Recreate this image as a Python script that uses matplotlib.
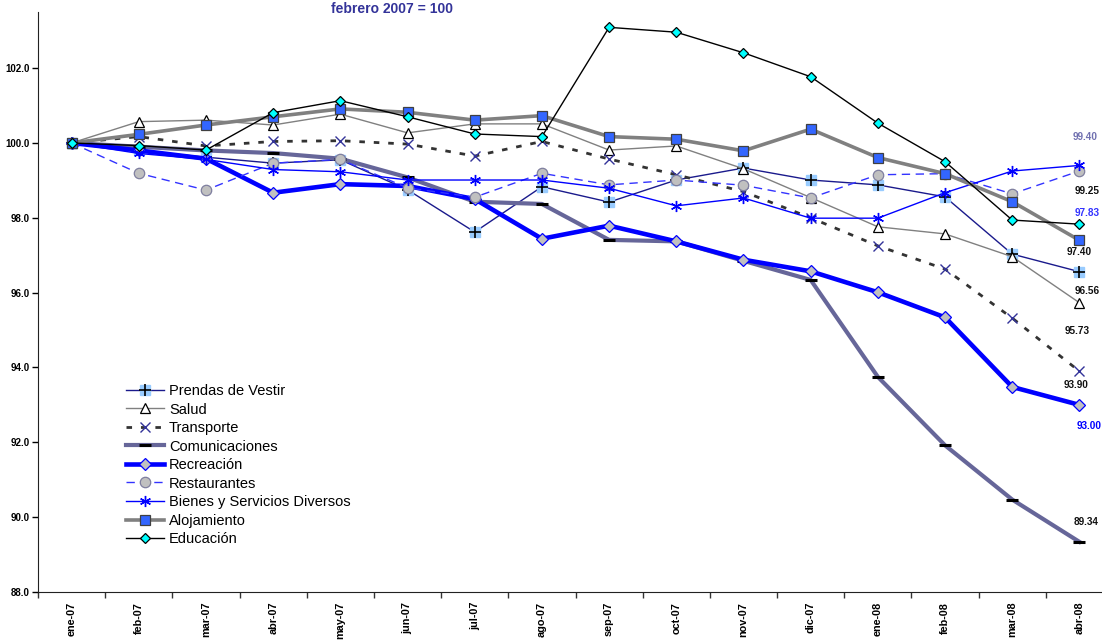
import matplotlib
matplotlib.use("Agg")
import matplotlib.pyplot as plt
from matplotlib.legend_handler import HandlerTuple
from matplotlib.ticker import FixedLocator, FormatStrFormatter

plt.rcParams["font.family"] = ["Liberation Sans", "DejaVu Sans"]

# ---- data (index febrero 2007 = 100) ----------------------------------------
months = ["ene-07", "feb-07", "mar-07", "abr-07", "may-07", "jun-07", "jul-07",
          "ago-07", "sep-07", "oct-07", "nov-07", "dic-07", "ene-08", "feb-08",
          "mar-08", "abr-08"]

prendas = [100.0, 99.80, 99.62, 99.46, 99.55, 98.75, 97.62, 98.83,
           98.42, 99.01, 99.33, 99.01, 98.88, 98.56, 97.03, 96.56]
salud = [100.0, 100.57, 100.61, 100.48, 100.77, 100.27, 100.51, 100.51,
         99.81, 99.92, 99.31, 98.54, 97.76, 97.57, 96.96, 95.73]
transporte = [100.0, 100.17, 99.92, 100.04, 100.06, 99.97, 99.65, 100.04,
              99.57, 99.15, 98.70, 98.00, 97.25, 96.63, 95.32, 93.90]
comunicaciones = [100.0, 99.90, 99.80, 99.73, 99.58, 99.08, 98.43, 98.37,
                  97.41, 97.37, 96.85, 96.34, 93.75, 91.92, 90.47, 89.34]
recreacion = [100.0, 99.80, 99.58, 98.67, 98.90, 98.85, 98.50, 97.44,
              97.79, 97.37, 96.88, 96.57, 96.01, 95.34, 93.48, 93.00]
restaurantes = [100.0, 99.19, 98.74, 99.46, 99.56, 98.80, 98.55, 99.19,
                98.88, 99.01, 98.87, 98.53, 99.15, 99.18, 98.64, 99.25]
bienes = [100.0, 99.72, 99.56, 99.29, 99.23, 99.01, 99.01, 99.01,
          98.79, 98.32, 98.53, 97.99, 97.99, 98.67, 99.25, 99.40]
alojamiento = [100.0, 100.23, 100.48, 100.70, 100.91, 100.82, 100.61, 100.73,
               100.17, 100.10, 99.79, 100.37, 99.61, 99.18, 98.43, 97.40]
educacion = [100.0, 99.93, 99.81, 100.81, 101.13, 100.70, 100.24, 100.17,
             103.09, 102.96, 102.41, 101.77, 100.53, 99.50, 97.94, 97.83]

yticks = [88.0, 90.0, 92.0, 94.0, 96.0, 98.0, 100.0, 102.0]

x = list(range(len(months)))

fig = plt.figure(figsize=(11.02, 6.42), dpi=100)
ax = fig.add_axes([38 / 1102, 50 / 642, 1075 / 1102, 580 / 642])

h_prendas_line, = ax.plot(x, prendas, color="#1A1A8C", lw=1, marker="s", ms=7,
                          mfc="#99CCFF", mec="#99CCFF", zorder=3)
h_prendas_plus, = ax.plot(x, prendas, ls="none", marker="+", ms=8, mew=1.2,
                          color="black", zorder=3.1)
h_salud, = ax.plot(x, salud, color="#808080", lw=1, marker="^", ms=7,
                   mfc="white", mec="black", mew=0.9, zorder=3.2)
h_transp, = ax.plot(x, transporte, color="#333333", lw=2, ls=(0, (2, 3.2)),
                    marker="x", ms=7, mec="#333399", mew=1, zorder=3.3)
h_comun, = ax.plot(x, comunicaciones, color="#666699", lw=3, marker="_", ms=8,
                   mec="black", mew=2.2, zorder=3.4)
h_recre, = ax.plot(x, recreacion, color="#0000FF", lw=3.3, marker="D", ms=6,
                   mfc="#C0C0C0", mec="#0000FF", mew=0.9, zorder=3.5)
h_rest, = ax.plot(x, restaurantes, color="#3333FF", lw=1, ls=(0, (6, 4)),
                  marker="o", ms=7.5, mfc="#C0C0C0", mec="#7F7F9F", mew=0.9, zorder=3.6)
h_bienes, = ax.plot(x, bienes, color="#0000FF", lw=1, marker=(6, 2, 0), ms=8,
                    mec="#0000FF", mew=1, zorder=3.7)
h_aloj, = ax.plot(x, alojamiento, color="#808080", lw=2.6, marker="s", ms=7.5,
                  mfc="#3366FF", mec="#404040", mew=0.9, zorder=3.8)
h_educ, = ax.plot(x, educacion, color="black", lw=1, marker="D", ms=5.5,
                  mfc="#00FFFF", mec="black", mew=0.9, zorder=3.9)

# end-of-series value labels (offsets in pixels)
end_labels = [
    (bienes, 6, 28, "#7070B0"),
    (restaurantes, 8, -20, "#111111"),
    (educacion, 8, 11, "#3333FF"),
    (alojamiento, 0, -12, "#111111"),
    (prendas, 8, -19, "#111111"),
    (salud, -2, -28, "#111111"),
    (transporte, -3, -14, "#111111"),
    (recreacion, 10, -21, "#0000FF"),
    (comunicaciones, 7, 20, "#111111"),
]
for series, dx, dy, col in end_labels:
    ax.annotate(f"{series[-1]:.2f}", (x[-1], series[-1]), xytext=(dx, dy),
                textcoords="offset pixels", ha="center", va="center",
                fontsize=7.2, fontweight="bold", color=col, zorder=5)

ax.set_xlim(-0.5, len(months) - 0.5)
ax.set_ylim(88, 103.5)
ax.set_yticks(yticks)
ax.yaxis.set_major_formatter(FormatStrFormatter("%.1f"))
ax.tick_params(axis="y", direction="out", length=4, width=1, labelsize=7, pad=2)
for t in ax.get_yticklabels():
    t.set_fontweight("bold")

ax.set_xticks(x)
ax.set_xticklabels(months, rotation=90, fontsize=7.8, fontweight="bold")
ax.tick_params(axis="x", which="major", length=0, pad=7)
ax.xaxis.set_minor_locator(FixedLocator([i + 0.5 for i in range(-1, len(months))]))
ax.tick_params(axis="x", which="minor", direction="out", length=4, width=1, color="#333333")

for s in ("top", "right"):
    ax.spines[s].set_visible(False)
ax.spines["left"].set_color("#222222")
ax.spines["bottom"].set_color("#222222")

fig.text(392 / 1102, 1 - 9 / 642, "febrero 2007 = 100", ha="center", va="center",
         fontsize=10, fontweight="bold", color="#333399")

handles = [(h_prendas_line, h_prendas_plus), h_salud, h_transp, h_comun, h_recre,
           h_rest, h_bienes, h_aloj, h_educ]
labels = ["Prendas de Vestir", "Salud", "Transporte", "Comunicaciones", "Recreación",
          "Restaurantes", "Bienes y Servicios Diversos", "Alojamiento", "Educación"]
ax.legend(handles, labels, loc="upper left", bbox_to_anchor=(126 / 1102, 1 - 384 / 642),
          bbox_transform=fig.transFigure, frameon=False, fontsize=10.5,
          labelspacing=0.31, handlelength=2.6, handletextpad=0.35, borderpad=0,
          borderaxespad=0, handler_map={tuple: HandlerTuple(ndivide=1)})

fig.savefig("out.png", dpi=100)
